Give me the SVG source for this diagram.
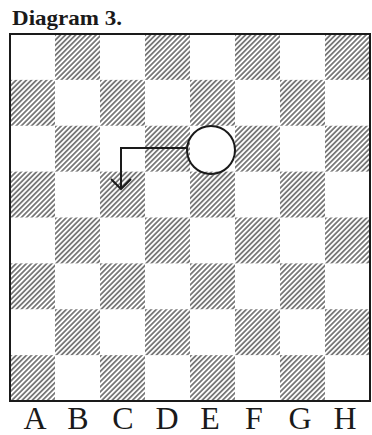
<svg xmlns="http://www.w3.org/2000/svg" width="372" height="435" viewBox="0 0 372 435">
<style>
.title{font-family:"Liberation Serif","Times New Roman",serif;font-weight:bold;font-size:21px;fill:#1a1a1a}
.file{font-family:"Liberation Serif","Times New Roman",serif;font-size:32px;fill:#1a1a1a;text-anchor:middle}
.ln{stroke:#1a1a1a;stroke-width:2;fill:none}
.dk{fill:url(#hatch)}
</style>
<defs>
<pattern id="hatch" patternUnits="userSpaceOnUse" width="3.6" height="10" patternTransform="rotate(45)">
<line x1="0.9" y1="0" x2="0.9" y2="10" stroke="#222" stroke-width="1.1"/>
</pattern>
<rect id="sq" width="45" height="45.875" class="dk"/>
</defs>
<rect width="372" height="435" fill="#fff"/>
<text class="title" x="12" y="25" textLength="110" lengthAdjust="spacingAndGlyphs">Diagram 3.</text>
<g id="board">
<g id="squares">
<use href="#sq" x="55" y="34"/><use href="#sq" x="145" y="34"/><use href="#sq" x="235" y="34"/><use href="#sq" x="325" y="34"/>
<use href="#sq" x="10" y="79.875"/><use href="#sq" x="100" y="79.875"/><use href="#sq" x="190" y="79.875"/><use href="#sq" x="280" y="79.875"/>
<use href="#sq" x="55" y="125.75"/><use href="#sq" x="145" y="125.75"/><use href="#sq" x="235" y="125.75"/><use href="#sq" x="325" y="125.75"/>
<use href="#sq" x="10" y="171.625"/><use href="#sq" x="100" y="171.625"/><use href="#sq" x="190" y="171.625"/><use href="#sq" x="280" y="171.625"/>
<use href="#sq" x="55" y="217.5"/><use href="#sq" x="145" y="217.5"/><use href="#sq" x="235" y="217.5"/><use href="#sq" x="325" y="217.5"/>
<use href="#sq" x="10" y="263.375"/><use href="#sq" x="100" y="263.375"/><use href="#sq" x="190" y="263.375"/><use href="#sq" x="280" y="263.375"/>
<use href="#sq" x="55" y="309.25"/><use href="#sq" x="145" y="309.25"/><use href="#sq" x="235" y="309.25"/><use href="#sq" x="325" y="309.25"/>
<use href="#sq" x="10" y="355.125"/><use href="#sq" x="100" y="355.125"/><use href="#sq" x="190" y="355.125"/><use href="#sq" x="280" y="355.125"/>
</g>
<rect x="10" y="34" width="360" height="367" class="ln"/>
</g>
<g id="piece">
<circle cx="211" cy="150" r="24" fill="#fff" class="ln"/>
</g>
<g id="connectors">
<path d="M187,148 H121 V189" class="ln"/>
<polyline points="111,179 121,189 131,179" class="ln"/>
</g>
<g id="labels">
<text class="file" x="35" y="429">A</text>
<text class="file" x="78" y="429">B</text>
<text class="file" x="123" y="429">C</text>
<text class="file" x="167" y="429">D</text>
<text class="file" x="210" y="429">E</text>
<text class="file" x="254" y="429">F</text>
<text class="file" x="300" y="429">G</text>
<text class="file" x="345" y="429">H</text>
</g>
</svg>
